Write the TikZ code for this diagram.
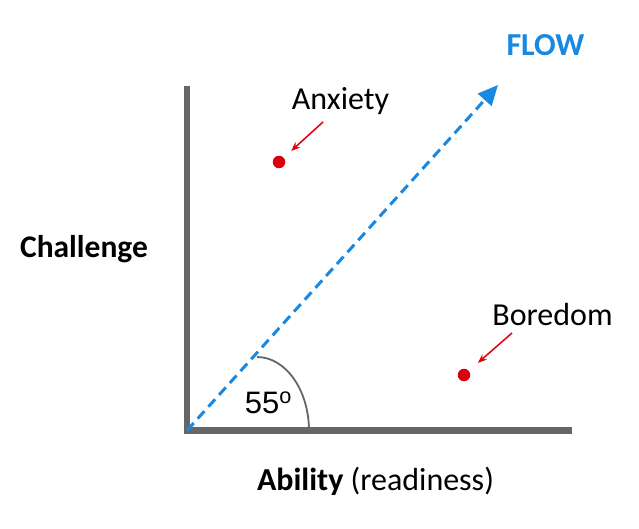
\documentclass[tikz,border=0pt]{standalone}
\usepackage{fontspec}
\setmainfont{Carlito}
\newfontfamily\arialfont{Liberation Sans}
\usepackage{xcolor}
\usepackage{tikz}
\usetikzlibrary{arrows.meta,positioning,calc}

\definecolor{axisgray}{RGB}{102,102,102}
\definecolor{flowblue}{RGB}{24,137,226}
\definecolor{dotred}{RGB}{220,0,14}

\tikzset{
  axisline/.style={axisgray, line width=6.5pt, line cap=butt},
  statedot/.style={circle, fill=dotred, inner sep=0pt, minimum size=12.5pt},
  pointer/.style={-{Stealth[length=9pt,width=7pt]}, dotred, line width=1.5pt},
  lbl/.style={font=\fontsize{32}{38}\selectfont, anchor=base, inner sep=0pt}
}

\begin{document}
\begin{tikzpicture}[x=1pt, y=-1pt]
    \useasboundingbox (0,0) rectangle (639,528);

    % Axes
    \coordinate (origin) at (187,430.5);
    \coordinate (ytop) at (187,86);
    \coordinate (xend) at (571.5,430.5);
    \draw[axisline] ($(ytop)$) -- ($(origin)+(0,3.25)$);
    \draw[axisline] ($(origin)+(-3.25,0)$) -- (xend);

    % Flow channel
    \coordinate (flowtip) at (498,85);
    \draw[flowblue, line width=3pt, dash pattern=on 10pt off 6pt,
          -{Triangle[length=20pt,width=18pt]}] (origin) -- (flowtip);
    \node[lbl, font=\fontsize{32}{38}\selectfont\bfseries, text=flowblue] (flow) at (545.5,55) {FLOW};

    % Angle
    \draw[axisgray, line width=1.8pt] (257,357) arc[start angle=-90, end angle=0, x radius=52, y radius=74];
    \node[lbl, font=\arialfont\fontsize{31}{36}\selectfont] (angle) at (268.5,413) {55\textsuperscript{o}};

    % States
    \node[statedot] (anxdot) at (279,162) {};
    \node[statedot] (boredot) at (464,375) {};
    \node[lbl] (anxiety) at (340.5,109) {Anxiety};
    \node[lbl] (boredom) at (552.5,325) {Boredom};
    \coordinate (anxtail) at (323,122);
    \coordinate (boretail) at (512,333);
    \draw[pointer, shorten >=10pt] (anxtail) -- (anxdot);
    \draw[pointer, shorten >=12pt] (boretail) -- (boredot);

    % Axis labels
    \node[lbl, font=\fontsize{31.5}{38}\selectfont\bfseries] (challenge) at (84,257) {Challenge};
    \node[lbl] (ability) at (375.5,490) {\textbf{Ability} (readiness)};
\end{tikzpicture}
\end{document}
